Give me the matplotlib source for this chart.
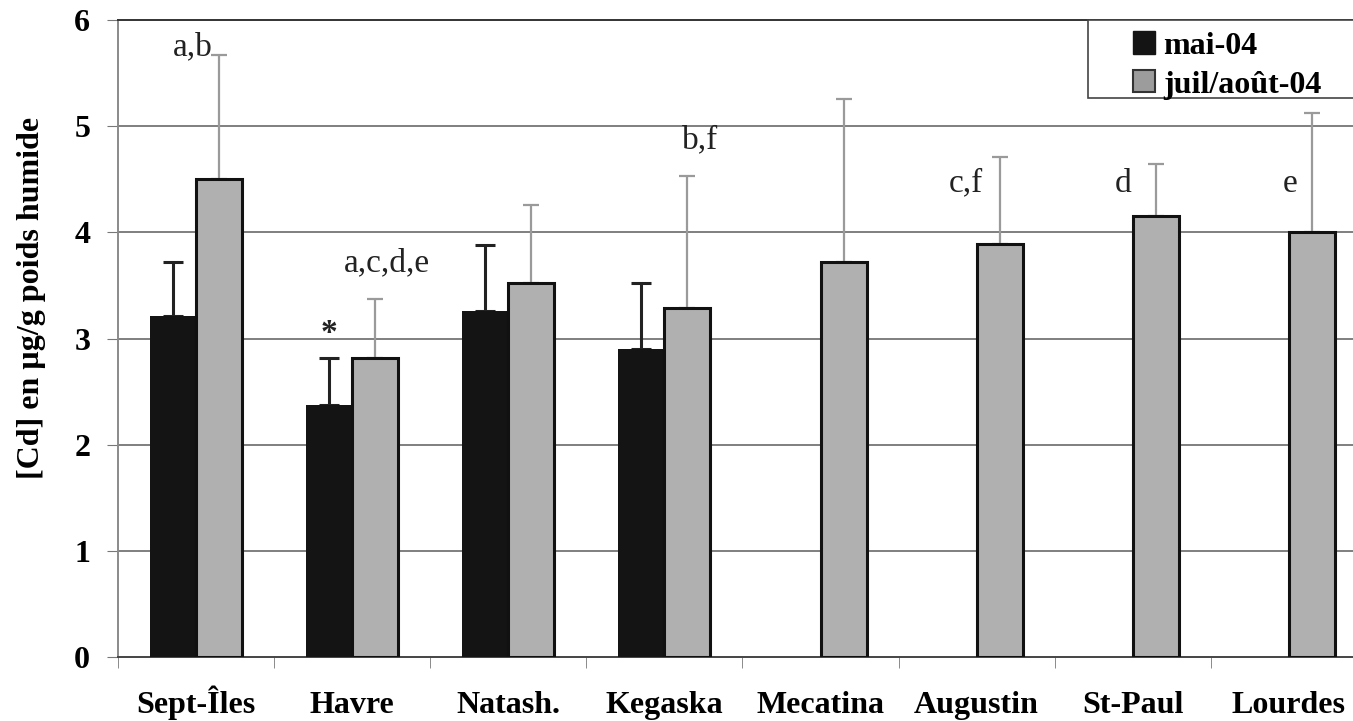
import matplotlib.pyplot as plt
import numpy as np
from matplotlib.patches import Patch, Rectangle

sites = ["Sept-Îles", "Havre", "Natash.", "Kegaska", "Mecatina",
         "Augustin", "St-Paul", "Lourdes"]
mai = [3.21, 2.37, 3.26, 2.90, np.nan, np.nan, np.nan, np.nan]
mai_err = [0.51, 0.45, 0.62, 0.62, np.nan, np.nan, np.nan, np.nan]
juil = [4.50, 2.82, 3.52, 3.29, 3.72, 3.89, 4.15, 4.00]
juil_err = [1.17, 0.55, 0.74, 1.24, 1.54, 0.82, 0.49, 1.12]
letters = ["a,b", "a,c,d,e", "", "b,f", "", "c,f", "d", "e"]
letter_pos = [(0.48, 5.75), (1.72, 3.71), None, (3.73, 4.87), None,
              (5.43, 4.46), (6.44, 4.46), (7.51, 4.46)]

plt.rcParams["font.family"] = ["Liberation Serif", "DejaVu Serif"]

fig = plt.figure(figsize=(13.53, 7.21), dpi=100)
ax = fig.add_axes([118 / 1353, 64 / 721, 1249 / 1353, 637 / 721])

x = np.arange(len(sites)) + 0.5
w = 0.295
black = "#141414"
grey = "#b0b0b0"

ax.bar(x - w / 2, mai, w, color=black, edgecolor=black, linewidth=0, zorder=3)
ax.bar(x + w / 2, juil, w, color=grey, edgecolor="#111111", linewidth=2.2,
       zorder=3)
ax.errorbar(x - w / 2, mai, yerr=[np.zeros(len(mai)), mai_err], fmt="none",
            ecolor="#222222", elinewidth=2.2, capsize=7, capthick=2.2,
            zorder=2)
ax.errorbar(x + w / 2, juil, yerr=[np.zeros(len(juil)), juil_err], fmt="none",
            ecolor="#9a9a9a", elinewidth=1.6, capsize=6, capthick=1.6,
            zorder=2)

for txt, pos in zip(letters, letter_pos):
    if pos:
        ax.text(pos[0], pos[1], txt, fontsize=24, ha="center", va="center",
                color="#222222")
ax.text(1.35, 3.05, "*", fontsize=24, ha="center", va="center",
        fontweight="bold", color="#222222")

ax.set_xlim(0, 8)
ax.set_ylim(0, 6)
ax.set_yticks(range(7))
ax.set_yticklabels([str(i) for i in range(7)], fontsize=23, fontweight="bold")
ax.set_xticks(x)
ax.set_xticklabels(sites, fontsize=23, fontweight="bold")
for lab in ax.get_xticklabels():
    lab.set_va("baseline")
ax.set_xticks(np.arange(0, 9), minor=True)
ax.tick_params(axis="x", which="major", length=0, pad=40)
ax.tick_params(axis="x", which="minor", length=8, color="#777777")
ax.tick_params(axis="y", length=8, color="#777777", pad=12)

for yy in range(1, 6):
    ax.axhline(yy, color="#6a6a6a", linewidth=1.2, zorder=1)
ax.spines["top"].set_color("#333333")
ax.spines["top"].set_linewidth(1.4)
ax.spines["right"].set_visible(False)
ax.spines["left"].set_color("#8a8a8a")
ax.spines["left"].set_linewidth(1.4)
ax.spines["bottom"].set_color("#444444")
ax.spines["bottom"].set_linewidth(1.4)

ax.set_ylabel("[Cd] en µg/g poids humide", fontsize=23, fontweight="bold")
ax.yaxis.set_label_coords(-0.058, 0.564)

# legend box runs off the right edge like in the scan
ax.add_patch(Rectangle((0.777, 0.8776), 0.3, 0.1224, transform=ax.transAxes,
                       facecolor="white", edgecolor="#444444", linewidth=1.2,
                       clip_on=False, zorder=5))
handles = [Patch(facecolor=black, edgecolor=black, label="mai-04"),
           Patch(facecolor="#9c9c9c", edgecolor="#333333", linewidth=1.5,
                 label="juil/août-04")]
leg = ax.legend(handles=handles, loc="upper left",
                bbox_to_anchor=(0.813, 0.982), frameon=False,
                handlelength=0.69, handleheight=0.69, handletextpad=0.25,
                borderpad=0, labelspacing=0.3, borderaxespad=0,
                prop={"size": 23, "weight": "bold"})
leg.set_zorder(6)

fig.savefig("out.png", dpi=100)
